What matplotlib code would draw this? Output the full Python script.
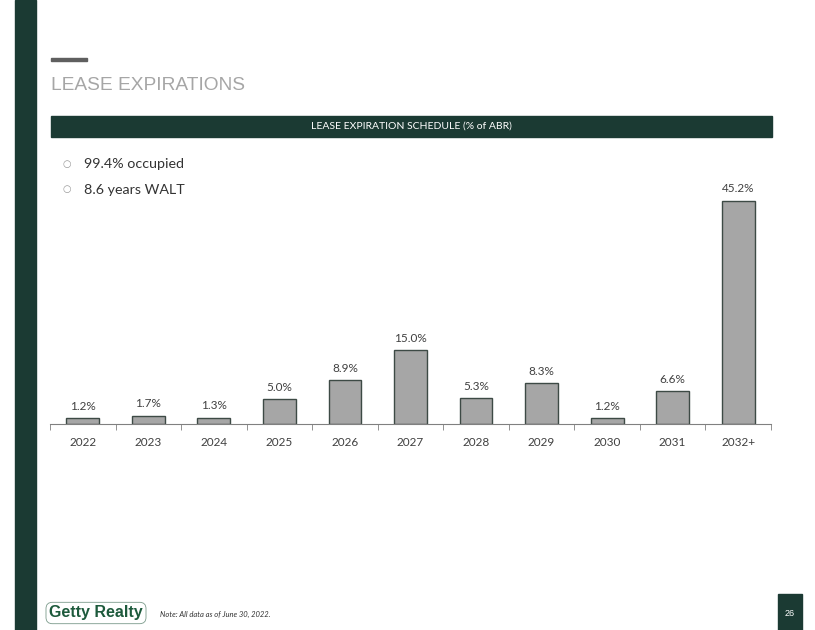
import numpy as np
import matplotlib.pyplot as plt
from matplotlib.patches import Rectangle

# data
years = ['2022', '2023', '2024', '2025', '2026', '2027', '2028', '2029', '2030', '2031', '2032+']
pct_abr = [1.2, 1.7, 1.3, 5.0, 8.9, 15.0, 5.3, 8.3, 1.2, 6.6, 45.2]
bullets = ['99.4% occupied', '8.6 years WALT']

W, H = 815, 630
green = '#1b3a33'
dark = '#404040'
plt.rcParams['font.family'] = ['Lato', 'DejaVu Sans']

fig = plt.figure(figsize=(W / 100, H / 100), dpi=100)

def px(x, y):
    # pixel coords (top-left origin) -> figure fraction
    return x / W, 1 - y / H

def rect(x0, y0, x1, y1, color):
    fig.patches.append(Rectangle((x0 / W, 1 - y1 / H), (x1 - x0) / W, (y1 - y0) / H,
                                 transform=fig.transFigure, color=color, zorder=0))

# left strip, title accent, header bar, page number box
rect(15, 0, 36, H, green)
rect(51, 58, 87, 61, '#5f5f5f')
rect(51, 116, 772, 137, green)
rect(778, 594, 802, H, green)

fig.text(*px(51, 85), 'LEASE EXPIRATIONS', fontsize=13.8, color='#a6a6a6',
         family='Liberation Sans', va='center', ha='left')
fig.text(*px(411, 126.5), 'LEASE EXPIRATION SCHEDULE (% of ABR)', fontsize=7.5,
         color='white', va='center', ha='center')

for i, b in enumerate(bullets):
    y = 164 + i * 25
    fig.text(*px(67, y), '○', fontsize=7, color='#999999', va='center', ha='center',
             family='DejaVu Sans')
    fig.text(*px(84, y + 0.5), b, fontsize=10.3, color='#333333', va='center', ha='left')

# bar chart
ax = fig.add_axes([50 / W, 1 - 424 / H, (771 - 50) / W, (424 - 177) / H])
x = np.arange(len(years))
bars = ax.bar(x, pct_abr, width=0.5, color='#a6a6a6', edgecolor='#3d4a45', linewidth=1)
for xi, v in zip(x, pct_abr):
    ax.annotate(f'{v:.1f}%', (xi, v), xytext=(0, 4.5), textcoords='offset points',
                ha='center', va='bottom', fontsize=8.5, color=dark)
ax.set_xlim(-0.5, len(years) - 0.5)
ax.set_ylim(0, 50)
for s in ['top', 'right', 'left']:
    ax.spines[s].set_visible(False)
ax.spines['bottom'].set_color('#808080')
ax.set_yticks([])
ax.set_xticks(x)
ax.set_xticklabels(years, fontsize=8.5, color=dark)
ax.tick_params(axis='x', which='major', length=0, pad=9)
ax.set_xticks(np.arange(len(years) + 1) - 0.5, minor=True)
ax.tick_params(axis='x', which='minor', length=4, color='#808080')
ax.patch.set_alpha(0)

# footer
fig.text(*px(96, 613), 'Getty Realty', fontsize=11.5, fontweight='bold', color='#1d5a3c',
         family='Liberation Sans', va='center', ha='center',
         bbox=dict(boxstyle='round,pad=0.2,rounding_size=0.4', fc='white', ec='#7a9a8a', lw=0.6))
fig.text(*px(160, 614), 'Note: All data as of June 30, 2022.', fontsize=5.5, style='italic',
         color='#333333', va='center', ha='left')
fig.text(*px(790, 613), '26', fontsize=6.5, color='white', va='center', ha='center',
         family='Liberation Sans')

fig.savefig('out.png', dpi=100)
